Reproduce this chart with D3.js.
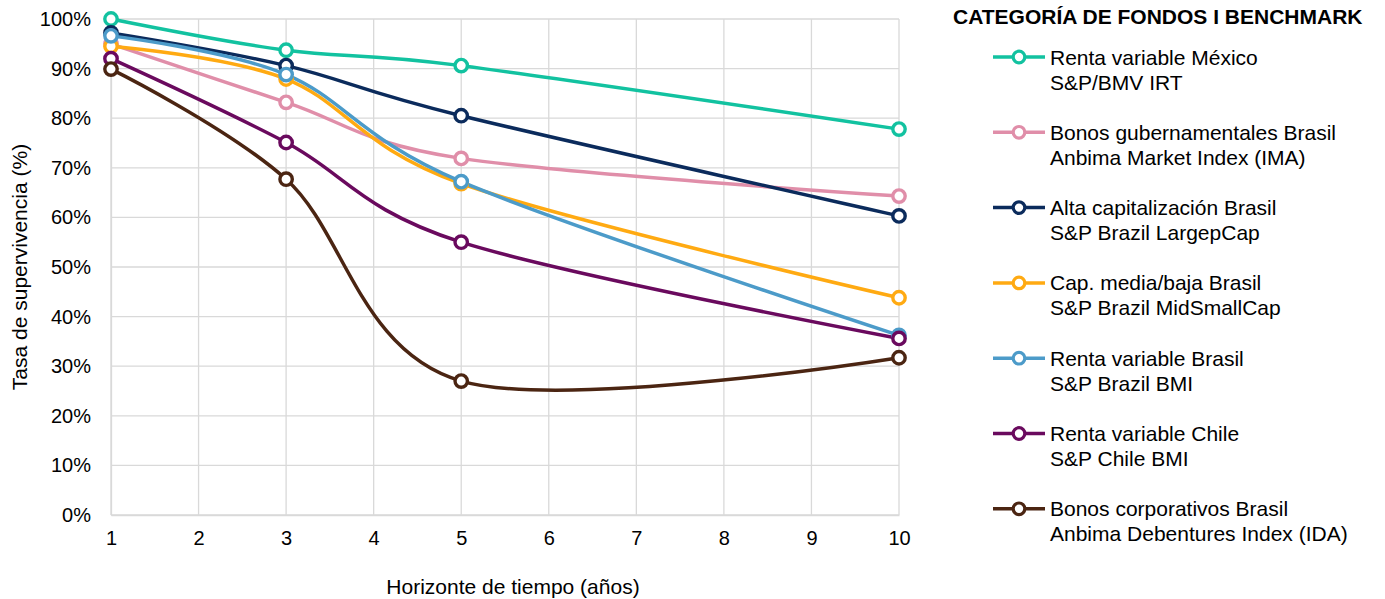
<!DOCTYPE html>
<html><head><meta charset="utf-8">
<script src="https://cdn.jsdelivr.net/npm/d3@7"></script>
<style>body{margin:0;background:#fff;font-family:"Liberation Sans",Arial,sans-serif;}</style>
</head><body><svg id="c" width="1385" height="599"></svg>
<script>
const years = [1, 3, 5, 10];
const seriesNames = [
  ["Renta variable México", "S&P/BMV IRT"],
  ["Bonos gubernamentales Brasil", "Anbima Market Index (IMA)"],
  ["Alta capitalización Brasil", "S&P Brazil LargepCap"],
  ["Cap. media/baja Brasil", "S&P Brazil MidSmallCap"],
  ["Renta variable Brasil", "S&P Brazil BMI"],
  ["Renta variable Chile", "S&P Chile BMI"],
  ["Bonos corporativos Brasil", "Anbima Debentures Index (IDA)"]
];
const mexico = [100, 93.7, 90.6, 77.8];
const bonosGub = [95.0, 83.2, 71.9, 64.3];
const altaCap = [97.2, 90.6, 80.5, 60.3];
const capMedia = [94.5, 87.9, 66.8, 43.8];
const rvBrasil = [96.6, 88.8, 67.2, 36.2];
const rvChile = [92.0, 75.1, 55.0, 35.6];
const bonosCorp = [89.9, 67.7, 27.0, 31.7];
const colors = ["#12C2A0", "#E08EA9", "#0B2B5C", "#FFAA12", "#4C9BC9", "#6A0A5E", "#4B2512"];
const xTicks = [1,2,3,4,5,6,7,8,9,10];
const yTicks = [0,10,20,30,40,50,60,70,80,90,100];
const legendTitle = "CATEGORÍA DE FONDOS I BENCHMARK";
const xLabel = "Horizonte de tiempo (años)";
const yLabel = "Tasa de supervivencia (%)";

const allValues = [mexico, bonosGub, altaCap, capMedia, rvBrasil, rvChile, bonosCorp];
const svg = d3.select("#c");
const x = d3.scaleLinear().domain([1, 10]).range([111, 899]);
const y = d3.scaleLinear().domain([0, 100]).range([515, 19]);
const grid = "#D9D9D9";
const FF = "Liberation Sans, Arial, sans-serif";

// grid
svg.append("g").selectAll("line").data(yTicks).join("line")
  .attr("x1", x(1)).attr("x2", x(10)).attr("y1", d => y(d)).attr("y2", d => y(d))
  .attr("stroke", grid).attr("stroke-width", 1.3);
svg.append("g").selectAll("line").data(xTicks).join("line")
  .attr("y1", y(0)).attr("y2", y(100)).attr("x1", d => x(d)).attr("x2", d => x(d))
  .attr("stroke", grid).attr("stroke-width", 1.3);

// axes
const yAxis = svg.append("g").attr("transform", `translate(${x(1)},0)`)
  .call(d3.axisLeft(y).tickValues(yTicks).tickFormat(d => d + "%").tickSize(0).tickPadding(20));
yAxis.select(".domain").attr("stroke", grid).attr("stroke-width", 1.3);
yAxis.selectAll("text").attr("font-size", 20).attr("fill", "#000").attr("font-family", FF);
const xAxis = svg.append("g").attr("transform", `translate(0,${y(0)})`)
  .call(d3.axisBottom(x).tickValues(xTicks).tickFormat(d3.format("d")).tickSize(0).tickPadding(16));
xAxis.select(".domain").attr("stroke", grid).attr("stroke-width", 1.3);
xAxis.selectAll("text").attr("font-size", 20).attr("fill", "#000").attr("font-family", FF);

svg.append("text").attr("x", 513).attr("y", 594).attr("text-anchor", "middle")
  .attr("font-size", 21).text(xLabel);
svg.append("text").attr("transform", "translate(27,267) rotate(-90)").attr("text-anchor", "middle")
  .attr("font-size", 21).text(yLabel);

// lines
const line = d3.line().x((d, i) => x(years[i])).y(d => y(d)).curve(d3.curveCardinal.tension(0));
allValues.forEach((vals, k) => {
  svg.append("path").attr("d", line(vals)).attr("fill", "none")
    .attr("stroke", colors[k]).attr("stroke-width", 3.5);
});
allValues.forEach((vals, k) => {
  svg.append("g").selectAll("circle").data(vals).join("circle")
    .attr("cx", (d, i) => x(years[i])).attr("cy", d => y(d)).attr("r", 6.2)
    .attr("fill", "#fff").attr("stroke", colors[k]).attr("stroke-width", 3.4);
});

// legend
svg.append("text").attr("x", 953).attr("y", 24).attr("font-size", 21).attr("font-weight", "bold")
  .text(legendTitle);
seriesNames.forEach((nm, k) => {
  const ly = 57 + k * 75.3;
  const g = svg.append("g");
  g.append("line").attr("x1", 993).attr("x2", 1045).attr("y1", ly).attr("y2", ly)
    .attr("stroke", colors[k]).attr("stroke-width", 3.5);
  g.append("circle").attr("cx", 1019).attr("cy", ly).attr("r", 5.8)
    .attr("fill", "#fff").attr("stroke", colors[k]).attr("stroke-width", 3.2);
  g.append("text").attr("x", 1050).attr("y", ly + 7.5).attr("font-size", 21).text(nm[0]);
  g.append("text").attr("x", 1050).attr("y", ly + 32.5).attr("font-size", 21).text(nm[1]);
});
</script></body></html>
